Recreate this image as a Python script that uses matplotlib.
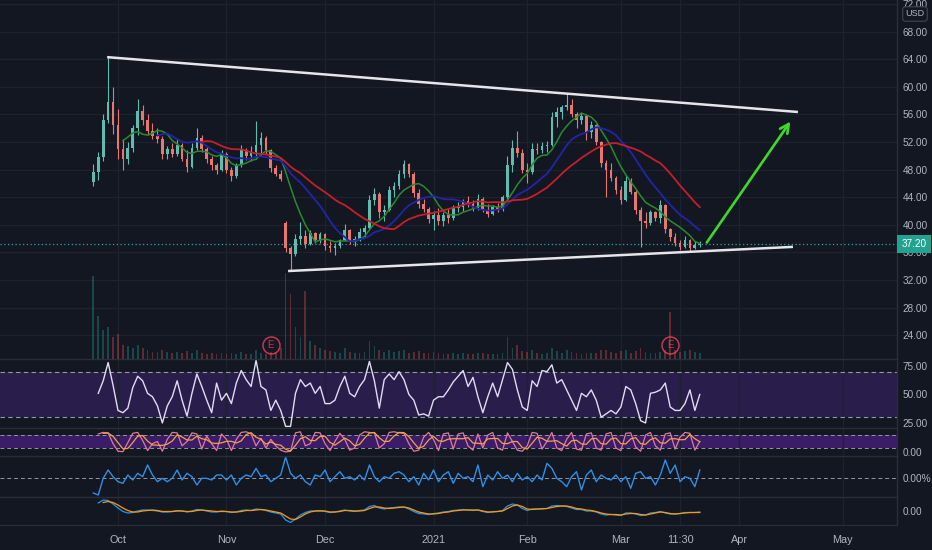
import matplotlib
matplotlib.use("Agg")
import matplotlib.pyplot as plt
import matplotlib.transforms as mtransforms
import numpy as np
import pandas as pd

plt.rcParams['font.family'] = ['Liberation Sans', 'DejaVu Sans']

# daily bars, x = trading-day index (0 = 24 Sep 2020)
opens = [46.2, 47.6, 49.8, 55.2, 57.8, 54.5, 51.0, 49.5, 51.2, 54.0, 56.5, 55.2, 53.6, 52.9, 52.4, 50.3,
         51.0, 50.2, 51.6, 49.6, 48.4, 51.2, 52.6, 51.0, 49.6, 48.6, 48.0, 50.2, 48.0, 47.0, 48.6, 50.8,
         50.0, 50.6, 51.5, 52.6, 50.8, 48.2, 47.4, 40.2, 36.6, 35.8, 38.0, 38.4, 37.2, 38.8, 37.8, 38.6,
         36.9, 36.6, 36.9, 37.8, 39.2, 37.6, 38.0, 39.0, 39.6, 43.6, 44.4, 41.8, 42.2, 45.0, 45.6, 47.4,
         48.8, 47.4, 44.6, 43.0, 42.3, 40.8, 41.4, 40.6, 41.4, 41.0, 42.4, 42.6, 43.4, 43.0, 42.4, 43.8,
         42.2, 41.6, 42.6, 42.3, 44.0, 48.6, 51.2, 50.4, 48.0, 47.6, 51.0, 50.8, 51.4, 51.6, 55.6, 56.4,
         57.0, 57.4, 56.0, 55.2, 55.8, 53.4, 54.4, 52.0, 49.0, 48.0, 46.8, 45.0, 43.6, 46.4, 44.8, 42.2,
         40.6, 40.2, 41.8, 41.0, 42.8, 39.4, 38.2, 37.4, 36.8, 37.8, 36.6, 37.0]
highs = [48.8, 50.6, 56.0, 64.3, 60.0, 56.8, 52.4, 52.0, 54.5, 58.3, 57.4, 56.0, 54.7, 54.0, 52.8, 51.4,
         51.9, 52.4, 51.8, 50.8, 51.8, 54.0, 53.0, 51.3, 50.0, 49.0, 50.8, 50.5, 48.4, 49.0, 51.6, 51.2,
         51.4, 55.0, 53.5, 52.8, 51.0, 48.6, 47.9, 40.5, 36.9, 38.6, 40.4, 39.2, 39.3, 39.0, 39.0, 38.8,
         37.6, 37.3, 38.0, 40.1, 39.4, 38.4, 39.6, 40.0, 44.3, 45.4, 44.8, 42.8, 45.6, 46.2, 48.0, 49.4,
         49.0, 47.6, 45.2, 43.8, 42.6, 42.0, 42.4, 41.8, 42.3, 42.8, 43.3, 43.8, 44.2, 43.6, 44.5, 44.0,
         43.0, 42.9, 43.2, 44.3, 50.0, 52.3, 53.6, 51.0, 48.9, 51.8, 51.8, 52.0, 52.2, 56.4, 57.0, 57.4,
         59.1, 58.2, 56.4, 56.2, 56.0, 55.0, 54.6, 52.2, 49.4, 49.0, 47.0, 45.6, 47.2, 46.8, 45.0, 42.6,
         41.8, 42.2, 42.0, 43.6, 43.0, 39.6, 38.8, 37.8, 38.4, 38.0, 37.6, 37.6]
lows = [45.6, 46.5, 49.2, 54.8, 53.2, 49.5, 47.9, 48.8, 50.6, 53.0, 54.5, 53.0, 52.5, 51.8, 49.6, 49.6,
        49.8, 50.0, 49.2, 47.7, 48.2, 50.9, 50.6, 49.0, 48.0, 47.4, 47.8, 47.5, 46.4, 46.8, 48.4, 49.4,
        49.3, 49.6, 50.0, 50.2, 47.6, 47.0, 46.3, 36.0, 33.3, 35.5, 37.2, 36.6, 37.0, 37.3, 37.4, 36.4,
        36.0, 35.6, 36.6, 37.6, 37.2, 36.9, 37.6, 38.2, 39.4, 42.8, 41.0, 40.6, 42.0, 44.0, 45.2, 46.8,
        46.9, 44.0, 42.4, 41.8, 40.2, 39.3, 40.0, 39.8, 40.3, 40.7, 41.8, 42.0, 42.6, 42.0, 42.2, 41.8,
        41.2, 41.4, 41.9, 42.0, 43.8, 47.6, 49.8, 47.5, 46.0, 47.4, 50.2, 50.4, 50.6, 51.4, 54.2, 55.4,
        56.6, 55.6, 54.0, 54.6, 52.3, 52.6, 51.6, 48.4, 44.1, 46.4, 44.4, 43.0, 43.4, 44.4, 41.6, 36.8,
        39.6, 40.0, 40.6, 40.2, 38.8, 37.6, 36.9, 36.4, 36.6, 36.2, 36.5, 36.8]
closes = [47.6, 49.8, 55.2, 57.8, 54.5, 51.0, 49.5, 51.2, 54.0, 56.5, 55.2, 53.6, 52.9, 52.4, 50.3, 51.0,
          50.2, 51.6, 49.6, 48.4, 51.2, 52.6, 51.0, 49.6, 48.6, 48.0, 50.2, 48.0, 47.0, 48.6, 50.8, 50.0,
          50.6, 51.5, 52.6, 50.8, 48.2, 47.4, 46.6, 36.6, 35.8, 38.0, 38.4, 37.2, 38.8, 37.8, 38.6, 36.9,
          36.6, 36.9, 37.8, 39.2, 37.6, 38.0, 39.0, 39.6, 43.6, 44.4, 41.8, 42.2, 45.0, 45.6, 47.4, 48.8,
          47.4, 44.6, 43.0, 42.3, 40.8, 41.4, 40.6, 41.4, 41.0, 42.4, 42.6, 43.4, 43.0, 42.4, 43.8, 42.2,
          41.6, 42.6, 42.3, 44.0, 48.6, 51.2, 50.4, 48.0, 47.6, 51.0, 50.8, 51.4, 51.6, 55.6, 56.4, 57.0,
          57.4, 56.0, 55.2, 55.8, 53.4, 54.4, 52.0, 49.0, 48.0, 46.8, 45.0, 43.6, 46.4, 44.8, 42.2, 40.6,
          40.2, 41.8, 41.0, 42.8, 39.4, 38.2, 37.4, 36.8, 37.8, 36.6, 37.0, 37.2]
volumes = [23, 12, 8, 9, 6, 7, 4, 3.5, 3, 4, 3, 2.5, 2, 2, 2.5, 2, 1.8, 2, 1.6, 2.2, 1.8, 2.6, 1.8, 1.5,
           1.6, 1.4, 1.8, 1.5, 1.6, 1.4, 2.0, 1.5, 1.4, 2.4, 1.6, 1.5, 2.0, 1.8, 3.0, 24, 18, 9, 6, 19,
           5, 4, 3, 2.5, 2.2, 2.0, 1.8, 3.0, 2.0, 1.6, 1.8, 2.0, 5.0, 3.5, 2.6, 2.0, 2.4, 2.0, 2.2, 2.6,
           1.8, 2.0, 2.2, 1.6, 1.8, 2.0, 1.6, 1.5, 1.4, 1.6, 1.5, 1.8, 1.4, 1.5, 1.6, 1.8, 1.5, 1.4, 1.3,
           1.6, 6.0, 3.0, 4.0, 2.2, 2.0, 2.4, 1.6, 1.5, 1.6, 3.0, 2.2, 1.8, 2.4, 2.0, 1.8, 1.5, 1.8, 1.6,
           1.8, 2.4, 2.6, 2.0, 1.8, 2.2, 2.4, 1.8, 2.2, 3.0, 2.0, 1.8, 1.6, 2.0, 2.4, 13, 2.4, 2.0, 2.2,
           2.6, 2.0, 1.8]

nan = np.nan
rsi = [nan, 51, 62, 78, 58, 36, 34, 38, 56, 66, 62, 51, 48, 40, 25, 40, 48, 62, 45, 31, 51, 68, 57, 45,
       34, 60, 45, 51, 42, 60, 71, 63, 57, 80, 57, 54, 36, 45, 36, 22, 22, 51, 63, 57, 60, 51, 57, 42,
       42, 45, 57, 66, 51, 48, 57, 63, 79, 62, 38, 63, 68, 63, 70, 63, 50, 45, 32, 33, 31, 45, 48, 48,
       54, 61, 66, 71, 57, 65, 48, 34, 48, 60, 48, 63, 78, 72, 54, 39, 36, 62, 57, 71, 70, 76, 60, 63,
       54, 45, 36, 51, 48, 54, 45, 30, 33, 36, 33, 39, 57, 54, 42, 27, 25, 51, 52, 54, 60, 39, 36, 36,
       42, 54, 36, 50]
stoch_k = [nan, 85, 92, 90, 40, 5, 3, 45, 88, 92, 55, 8, 40, 50, 5, 60, 92, 90, 30, 50, 90, 85, 15, 75,
           40, 8, 85, 60, 8, 60, 92, 95, 85, 30, 65, 20, 60, 30, 10, 2, 5, 90, 95, 30, 40, 92, 90, 40,
           8, 50, 88, 60, 10, 20, 80, 95, 92, 90, 20, 40, 92, 95, 90, 88, 40, 5, 10, 70, 92, 60, 8, 85,
           90, 15, 85, 90, 30, 10, 85, 20, 80, 92, 20, 10, 90, 50, 10, 5, 30, 92, 88, 15, 50, 92, 20, 8,
           60, 92, 15, 10, 85, 90, 20, 10, 85, 92, 20, 8, 88, 90, 25, 5, 80, 92, 30, 10, 85, 90, 15, 70,
           92, 88, 10, 50]
stoch_d = [nan, nan, 88, 89, 74, 45, 16, 18, 45, 75, 78, 52, 34, 33, 32, 38, 52, 81, 71, 57, 57, 75, 63,
           58, 43, 41, 44, 51, 51, 43, 53, 82, 91, 70, 60, 38, 48, 37, 33, 14, 6, 32, 63, 72, 55, 54, 74,
           74, 46, 33, 49, 66, 53, 30, 37, 65, 89, 92, 67, 50, 51, 76, 92, 91, 73, 44, 18, 28, 57, 74, 53,
           51, 61, 63, 63, 63, 68, 43, 42, 38, 62, 64, 64, 41, 40, 50, 50, 22, 15, 42, 70, 65, 51, 52, 54,
           40, 29, 53, 56, 39, 37, 62, 65, 40, 38, 62, 66, 40, 39, 62, 68, 40, 37, 59, 67, 44, 42, 62, 63,
           58, 59, 83, 63, 49]
roc_pct = [-1.5, -1.7, -0.03, 0.8, 0.13, -0.37, -0.53, 0.3, -0.2, 0.47, 0.13, 1.3, 0.3, -0.37, -0.03,
           -0.37, -0.03, 0.8, -0.2, 0.47, 0.13, -0.7, -0.03, -0.03, -0.2, 0.3, 0.3, -0.2, 0.3, -0.7,
           -0.03, 0.3, 0.13, 0.97, 0.13, 0.3, -0.37, -0.03, 0.3, 2.1, 0.47, -0.03, 0.3, -0.37, -0.7, 0.3,
           0.13, 0.8, -0.37, 0.13, 0.63, -0.03, 0.13, -0.2, 0.3, -0.2, 1.3, 0.13, -0.37, 0.13, -0.03,
           0.47, 0.63, 0.3, -0.37, 0.13, -0.7, 0.47, -0.2, 0.8, -0.37, 0.3, 0.63, -0.53, 0.47, -0.03,
           0.13, -0.37, 1.3, -0.87, 0.3, -0.2, 0.63, -0.03, 0.3, -0.37, 0.47, -0.2, 0.13, -0.37, 0.3,
           -0.2, 1.47, 0.97, -0.03, -0.37, -0.87, 0.13, 0.63, -1.2, 0.3, 0.8, -0.37, 0.3, -0.03, -0.2,
           0.3, -0.37, 0.13, -1.03, 0.47, 0.63, -0.03, 0.13, -0.7, 0.3, 1.8, 0.47, 1.3, -0.37, 0.13,
           -0.03, -0.87, 0.8]
macd = [nan, 1.6, 2.2, 2.1, 1.4, 0.6, -0.1, -0.4, -0.3, 0.0, 0.2, 0.2, 0.1, 0.0, -0.2, -0.2, -0.1, 0.1,
        0.0, -0.2, 0.0, 0.3, 0.2, 0.0, -0.2, -0.2, 0.0, -0.1, -0.3, -0.2, 0.1, 0.2, 0.1, 0.4, 0.3, 0.1,
        -0.2, -0.4, -0.6, -1.8, -2.3, -1.6, -0.8, -0.3, 0.0, 0.0, 0.1, -0.1, -0.3, -0.2, 0.0, 0.2, 0.0,
        -0.1, 0.1, 0.2, 0.9, 1.1, 0.6, 0.4, 0.6, 0.7, 0.8, 0.8, 0.4, -0.1, -0.5, -0.6, -0.7, -0.5, -0.4,
        -0.2, -0.1, 0.1, 0.2, 0.3, 0.2, 0.1, 0.2, -0.1, -0.3, -0.1, -0.1, 0.1, 1.0, 1.4, 1.2, 0.5, 0.1,
        0.4, 0.4, 0.5, 0.5, 1.0, 1.1, 1.0, 0.9, 0.6, 0.3, 0.3, 0.0, 0.0, -0.2, -0.6, -0.8, -0.7, -0.8,
        -0.9, -0.4, -0.4, -0.6, -0.9, -0.8, -0.4, -0.3, -0.1, -0.4, -0.6, -0.6, -0.5, -0.3, -0.3, -0.3,
        -0.2]
macd_signal = [nan, nan, 1.7, 1.9, 1.7, 1.2, 0.6, 0.1, -0.2, -0.2, 0.0, 0.1, 0.2, 0.1, -0.1, -0.1, -0.1,
               0.0, 0.0, -0.1, -0.1, 0.1, 0.2, 0.1, 0.0, -0.1, -0.1, -0.1, -0.2, -0.2, -0.1, 0.1, 0.1,
               0.2, 0.3, 0.2, 0.0, -0.2, -0.4, -1.0, -1.6, -1.7, -1.2, -0.6, -0.2, 0.0, 0.0, 0.0, -0.2,
               -0.2, -0.1, 0.1, 0.1, 0.0, 0.0, 0.1, 0.5, 0.8, 0.8, 0.6, 0.5, 0.6, 0.7, 0.8, 0.6, 0.2,
               -0.2, -0.4, -0.6, -0.6, -0.5, -0.3, -0.2, 0.0, 0.1, 0.2, 0.2, 0.2, 0.2, 0.0, -0.2, -0.2,
               -0.1, 0.0, 0.5, 1.0, 1.2, 0.9, 0.4, 0.3, 0.4, 0.4, 0.5, 0.7, 0.9, 1.0, 1.0, 0.8, 0.5, 0.4,
               0.2, 0.1, -0.1, -0.4, -0.6, -0.7, -0.7, -0.8, -0.6, -0.5, -0.5, -0.7, -0.8, -0.6, -0.4,
               -0.2, -0.3, -0.5, -0.6, -0.5, -0.4, -0.3, -0.3, -0.3]

# x axis labels (trading-day index)
tick_idx = [5, 27, 47, 69, 88, 107, 119, 131, 152]
tick_lbl = ['Oct', 'Nov', 'Dec', '2021', 'Feb', 'Mar', '11:30', 'Apr', 'May']
earnings_idx = [36, 117]

# drawings (index, price)
upper_line = [(2.8, 64.3), (142.9, 56.35)]
lower_line = [(39.5, 33.3), (141.9, 36.8)]
target_arrow = [(124.1, 37.1), (141.7, 55.3)]

BG = '#131722'
GRID = '#1e222d'
SEP = '#2a2e39'
TXT = '#b2b5be'
UP = '#5fbcae'
DOWN = '#e8786f'
FS = 7.2

fig = plt.figure(figsize=(9.32, 5.5), dpi=100, facecolor=BG)
W = 897 / 932


def pane(top_px, bot_px):
    a = fig.add_axes([0, 1 - bot_px / 550, W, (bot_px - top_px) / 550])
    a.set_facecolor(BG)
    for s in ['left', 'bottom']:
        a.spines[s].set_visible(False)
    for s in ['top', 'right']:
        a.spines[s].set_color(SEP)
        a.spines[s].set_linewidth(1.0)
    a.yaxis.tick_right()
    a.tick_params(axis='y', length=0, colors=TXT, labelsize=FS, pad=4)
    a.tick_params(axis='x', length=0, colors=TXT, labelsize=7.8)
    a.set_xlim(-18.93, 163.0)
    a.set_xticks(tick_idx)
    a.set_xticklabels([])
    a.grid(axis='x', color=GRID, lw=0.9)
    a.set_axisbelow(True)
    return a


ax = pane(0, 359)
ax_rsi = pane(359, 428)
ax_st = pane(428, 456)
ax_roc = pane(456, 497)
ax_macd = pane(497, 525)
ax.spines['top'].set_visible(False)
ax_macd.spines['bottom'].set_visible(True)
ax_macd.spines['bottom'].set_color(SEP)

idx = np.arange(len(closes))
o = np.array(opens)
h = np.array(highs)
l = np.array(lows)
c = np.array(closes)
up = c >= o
col = np.where(up, UP, DOWN)

# volume overlay at the bottom of the price pane
axv = fig.add_axes(ax.get_position(), sharex=ax)
axv.patch.set_visible(False)
axv.set_ylim(0, 100)
axv.axis('off')
vcol = np.where(up, '#26a69a', '#ef5350')
axv.bar(idx, volumes, width=0.35, color=vcol, alpha=0.35, lw=0)

# price
ax.set_ylim(20.55, 72.58)
ax.set_yticks(np.arange(24, 73, 4))
ax.set_yticklabels([f'{v:.2f}' for v in np.arange(24, 73, 4)])
ax.grid(axis='y', color=GRID, lw=0.9)
ax.vlines(idx, l, h, colors=col, lw=0.8, zorder=3)
ax.bar(idx, np.maximum(np.abs(c - o), 0.1), bottom=np.minimum(o, c), width=0.55,
       color=col, lw=0, zorder=3)

cs = pd.Series(closes)
ax.plot(idx, cs.rolling(7).mean(), color='#2b8a2e', lw=1.1, zorder=4)
ax.plot(idx, cs.rolling(14).mean(), color='#2424a8', lw=1.3, zorder=4)
ax.plot(idx, cs.rolling(23).mean(), color='#c81e2c', lw=1.3, zorder=4)

ax.axhline(closes[-1], color='#26a69a', ls=(0, (1, 2)), lw=0.9, zorder=2)

for line in (upper_line, lower_line):
    xs, ys = zip(*line)
    ax.plot(xs, ys, color='#e6e6ea', lw=1.8, zorder=5, solid_capstyle='butt')
ax.annotate('', xy=target_arrow[1], xytext=target_arrow[0],
            arrowprops=dict(arrowstyle='->', color='#3fd82a', lw=1.9, mutation_scale=16), zorder=6)

tr = mtransforms.blended_transform_factory(ax.transData, ax.transAxes)
ax.scatter(earnings_idx, [0.04] * len(earnings_idx), s=150, facecolors=BG, edgecolors='#c9364f',
           lw=1.1, transform=tr, zorder=6)
for e in earnings_idx:
    ax.text(e, 0.04, 'E', transform=tr, ha='center', va='center', fontsize=7, color='#c9364f', zorder=7)

trp = mtransforms.blended_transform_factory(ax.transAxes, ax.transData)
ax.text(914 / 897, closes[-1], f'{closes[-1]:.2f}', transform=trp, ha='center', va='center',
        fontsize=FS, color='white', zorder=8,
        bbox=dict(boxstyle='square,pad=0.4', fc='#22a38f', ec='none'))
fig.text(915 / 932, 1 - 14 / 550, 'USD', ha='center', va='center', fontsize=6.5, color=TXT,
         bbox=dict(boxstyle='round,pad=0.3', fc=BG, ec='#434651', lw=0.8))

# RSI
ax_rsi.set_ylim(20.6, 81.1)
ax_rsi.axhspan(30, 70, color='#281d4b', lw=0, zorder=0)
for v in (70, 30):
    ax_rsi.axhline(v, color='#9598a1', ls=(0, (4, 3)), lw=0.8)
ax_rsi.plot(idx, rsi, color='#e2dbf5', lw=1.0)
ax_rsi.set_yticks([25, 50, 75])
ax_rsi.set_yticklabels(['25.00', '50.00', '75.00'])

# Stoch RSI
ax_st.set_ylim(-17, 112.5)
ax_st.axhspan(20, 80, color='#3a1d66', lw=0, zorder=0)
for v in (80, 20):
    ax_st.axhline(v, color='#9598a1', ls=(0, (4, 3)), lw=0.7)
ax_st.plot(idx, stoch_k, color='#e07aa0', lw=0.9)
ax_st.plot(idx, stoch_d, color='#f5a04a', lw=0.9)
ax_st.set_yticks([0])
ax_st.set_yticklabels(['0.00'])

# percent oscillator
ax_roc.set_ylim(-1.9, 2.2)
ax_roc.axhline(0, color='#9598a1', ls=(0, (4, 3)), lw=0.7)
ax_roc.plot(idx, roc_pct, color='#2f8fe6', lw=1.0)
ax_roc.set_yticks([0])
ax_roc.set_yticklabels(['0.00%'])

# MACD
ax_macd.set_ylim(-2.8, 2.8)
ax_macd.plot(idx, macd, color='#2196f3', lw=0.9)
ax_macd.plot(idx, macd_signal, color='#ff9800', lw=0.9)
ax_macd.set_yticks([0])
ax_macd.set_yticklabels(['0.00'])
ax_macd.set_xticklabels(tick_lbl)
ax_macd.tick_params(axis='x', pad=7)

fig.savefig('out.png', dpi=100, facecolor=BG)
